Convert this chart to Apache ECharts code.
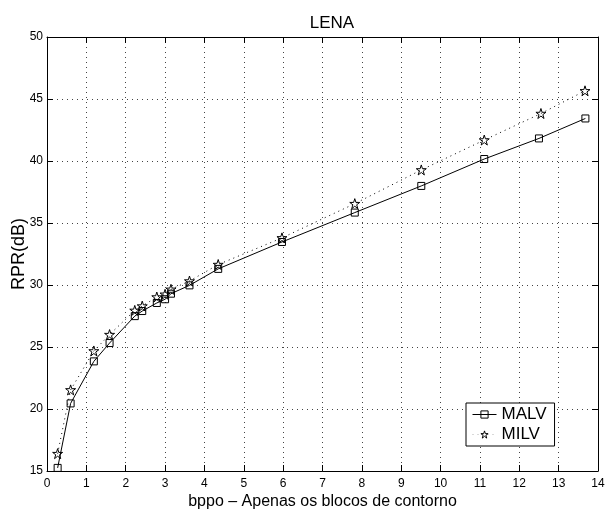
<!DOCTYPE html>
<html>
<head>
<meta charset="utf-8">
<script src="https://cdn.jsdelivr.net/npm/echarts@6/dist/echarts.min.js"></script>
<style>
  html, body { margin: 0; padding: 0; background: #fff; }
  #chart { width: 607px; height: 510px; }
</style>
</head>
<body>
<div id="chart"></div>
<script>
// values
const malvX = [0.27, 0.60, 1.19, 1.59, 2.23, 2.42, 2.79, 3.00, 3.15, 3.62, 4.35, 5.97, 7.82, 9.51, 11.11, 12.50, 13.68]
const malvY = [15.25, 20.45, 23.84, 25.32, 27.49, 27.90, 28.55, 28.85, 29.30, 29.97, 31.30, 33.47, 35.84, 37.99, 40.16, 41.82, 43.43]
const milvX = [0.27, 0.60, 1.19, 1.59, 2.23, 2.42, 2.79, 3.00, 3.15, 3.62, 4.35, 5.97, 7.82, 9.51, 11.11, 12.55, 13.67]
const milvY = [16.40, 21.54, 24.68, 26.00, 27.95, 28.30, 29.03, 29.25, 29.65, 30.32, 31.65, 33.80, 36.56, 39.28, 41.69, 43.83, 45.66]

const starPath = 'path://M50,2 L61,36 L97,36 L68,57 L79,92 L50,70 L21,92 L32,57 L3,36 L39,36 Z'
const font = '"Liberation Sans", Arial, Helvetica, sans-serif'
const hollow = { color: 'rgba(255,255,255,0)', borderColor: '#000', borderWidth: 1 }

const chart = echarts.init(document.getElementById('chart'))

const zip = (xs, ys) => xs.map((x, i) => [x, ys[i]])

const gridDots = { show: true, lineStyle: { color: '#444', width: 1, type: [1, 4] } }
const boxLine = { show: true, onZero: false, lineStyle: { color: '#000', width: 1 } }
const inTicks = { show: true, inside: true, length: 6, lineStyle: { color: '#000' } }

const options = {
    backgroundColor: '#fff',
    animation: false,
    title: {
        text: 'LENA',
        left: 327,
        top: 10,
        textAlign: 'center',
        textStyle: { fontFamily: font, fontSize: 17, fontWeight: 'normal', color: '#000' },
    },
    legend: {
        orient: 'vertical',
        left: 466,
        top: 403,
        padding: [3, 8, 3, 6],
        itemGap: 3,
        itemWidth: 24,
        itemHeight: 9,
        backgroundColor: '#fff',
        borderColor: '#000',
        borderWidth: 1,
        borderRadius: 0,
        textStyle: { fontFamily: font, fontSize: 17, color: '#000' },
        data: [
            { name: 'MALV', itemStyle: hollow, lineStyle: { color: '#000', width: 1 } },
            { name: 'MILV', itemStyle: hollow, lineStyle: { color: 'rgba(0,0,0,0.3)', width: 1, type: [1, 4] } },
        ],
    },
    grid: { left: 47, right: 9, top: 37, bottom: 39, containLabel: false, outerBoundsMode: 'none' },
    xAxis: [
        {
            type: 'value', min: 0, max: 14, interval: 1, position: 'bottom',
            name: 'bppo – Apenas os blocos de contorno',
            nameLocation: 'middle', nameGap: 23, nameMoveOverlap: false,
            nameTextStyle: { fontFamily: font, fontSize: 16, color: '#000' },
            axisLine: boxLine, axisTick: inTicks,
            axisLabel: { fontFamily: font, fontSize: 12, color: '#000', margin: 7 },
            splitLine: gridDots,
        },
        {
            type: 'value', min: 0, max: 14, interval: 1, position: 'top',
            axisLine: boxLine, axisTick: inTicks,
            axisLabel: { show: false }, splitLine: { show: false },
        },
    ],
    yAxis: [
        {
            type: 'value', min: 15, max: 50, interval: 5, position: 'left',
            name: 'RPR(dB)',
            nameLocation: 'middle', nameGap: 19, nameMoveOverlap: false,
            nameTextStyle: { fontFamily: font, fontSize: 18, color: '#000' },
            axisLine: boxLine, axisTick: inTicks,
            axisLabel: { fontFamily: font, fontSize: 12, color: '#000', margin: 4 },
            splitLine: gridDots,
        },
        {
            type: 'value', min: 15, max: 50, interval: 5, position: 'right',
            axisLine: boxLine, axisTick: inTicks,
            axisLabel: { show: false }, splitLine: { show: false },
        },
    ],
    series: [
        {
            name: 'MALV',
            type: 'line',
            data: zip(malvX, malvY),
            symbol: 'rect',
            symbolSize: 7,
            itemStyle: hollow,
            lineStyle: { color: '#000', width: 1 },
            z: 3,
        },
        {
            name: 'MILV',
            type: 'line',
            data: zip(milvX, milvY),
            symbol: starPath,
            symbolSize: 10,
            itemStyle: hollow,
            lineStyle: { color: '#000', width: 1, type: [1, 4] },
            z: 2,
        },
    ],
}

chart.setOption(options)
</script>
</body>
</html>
